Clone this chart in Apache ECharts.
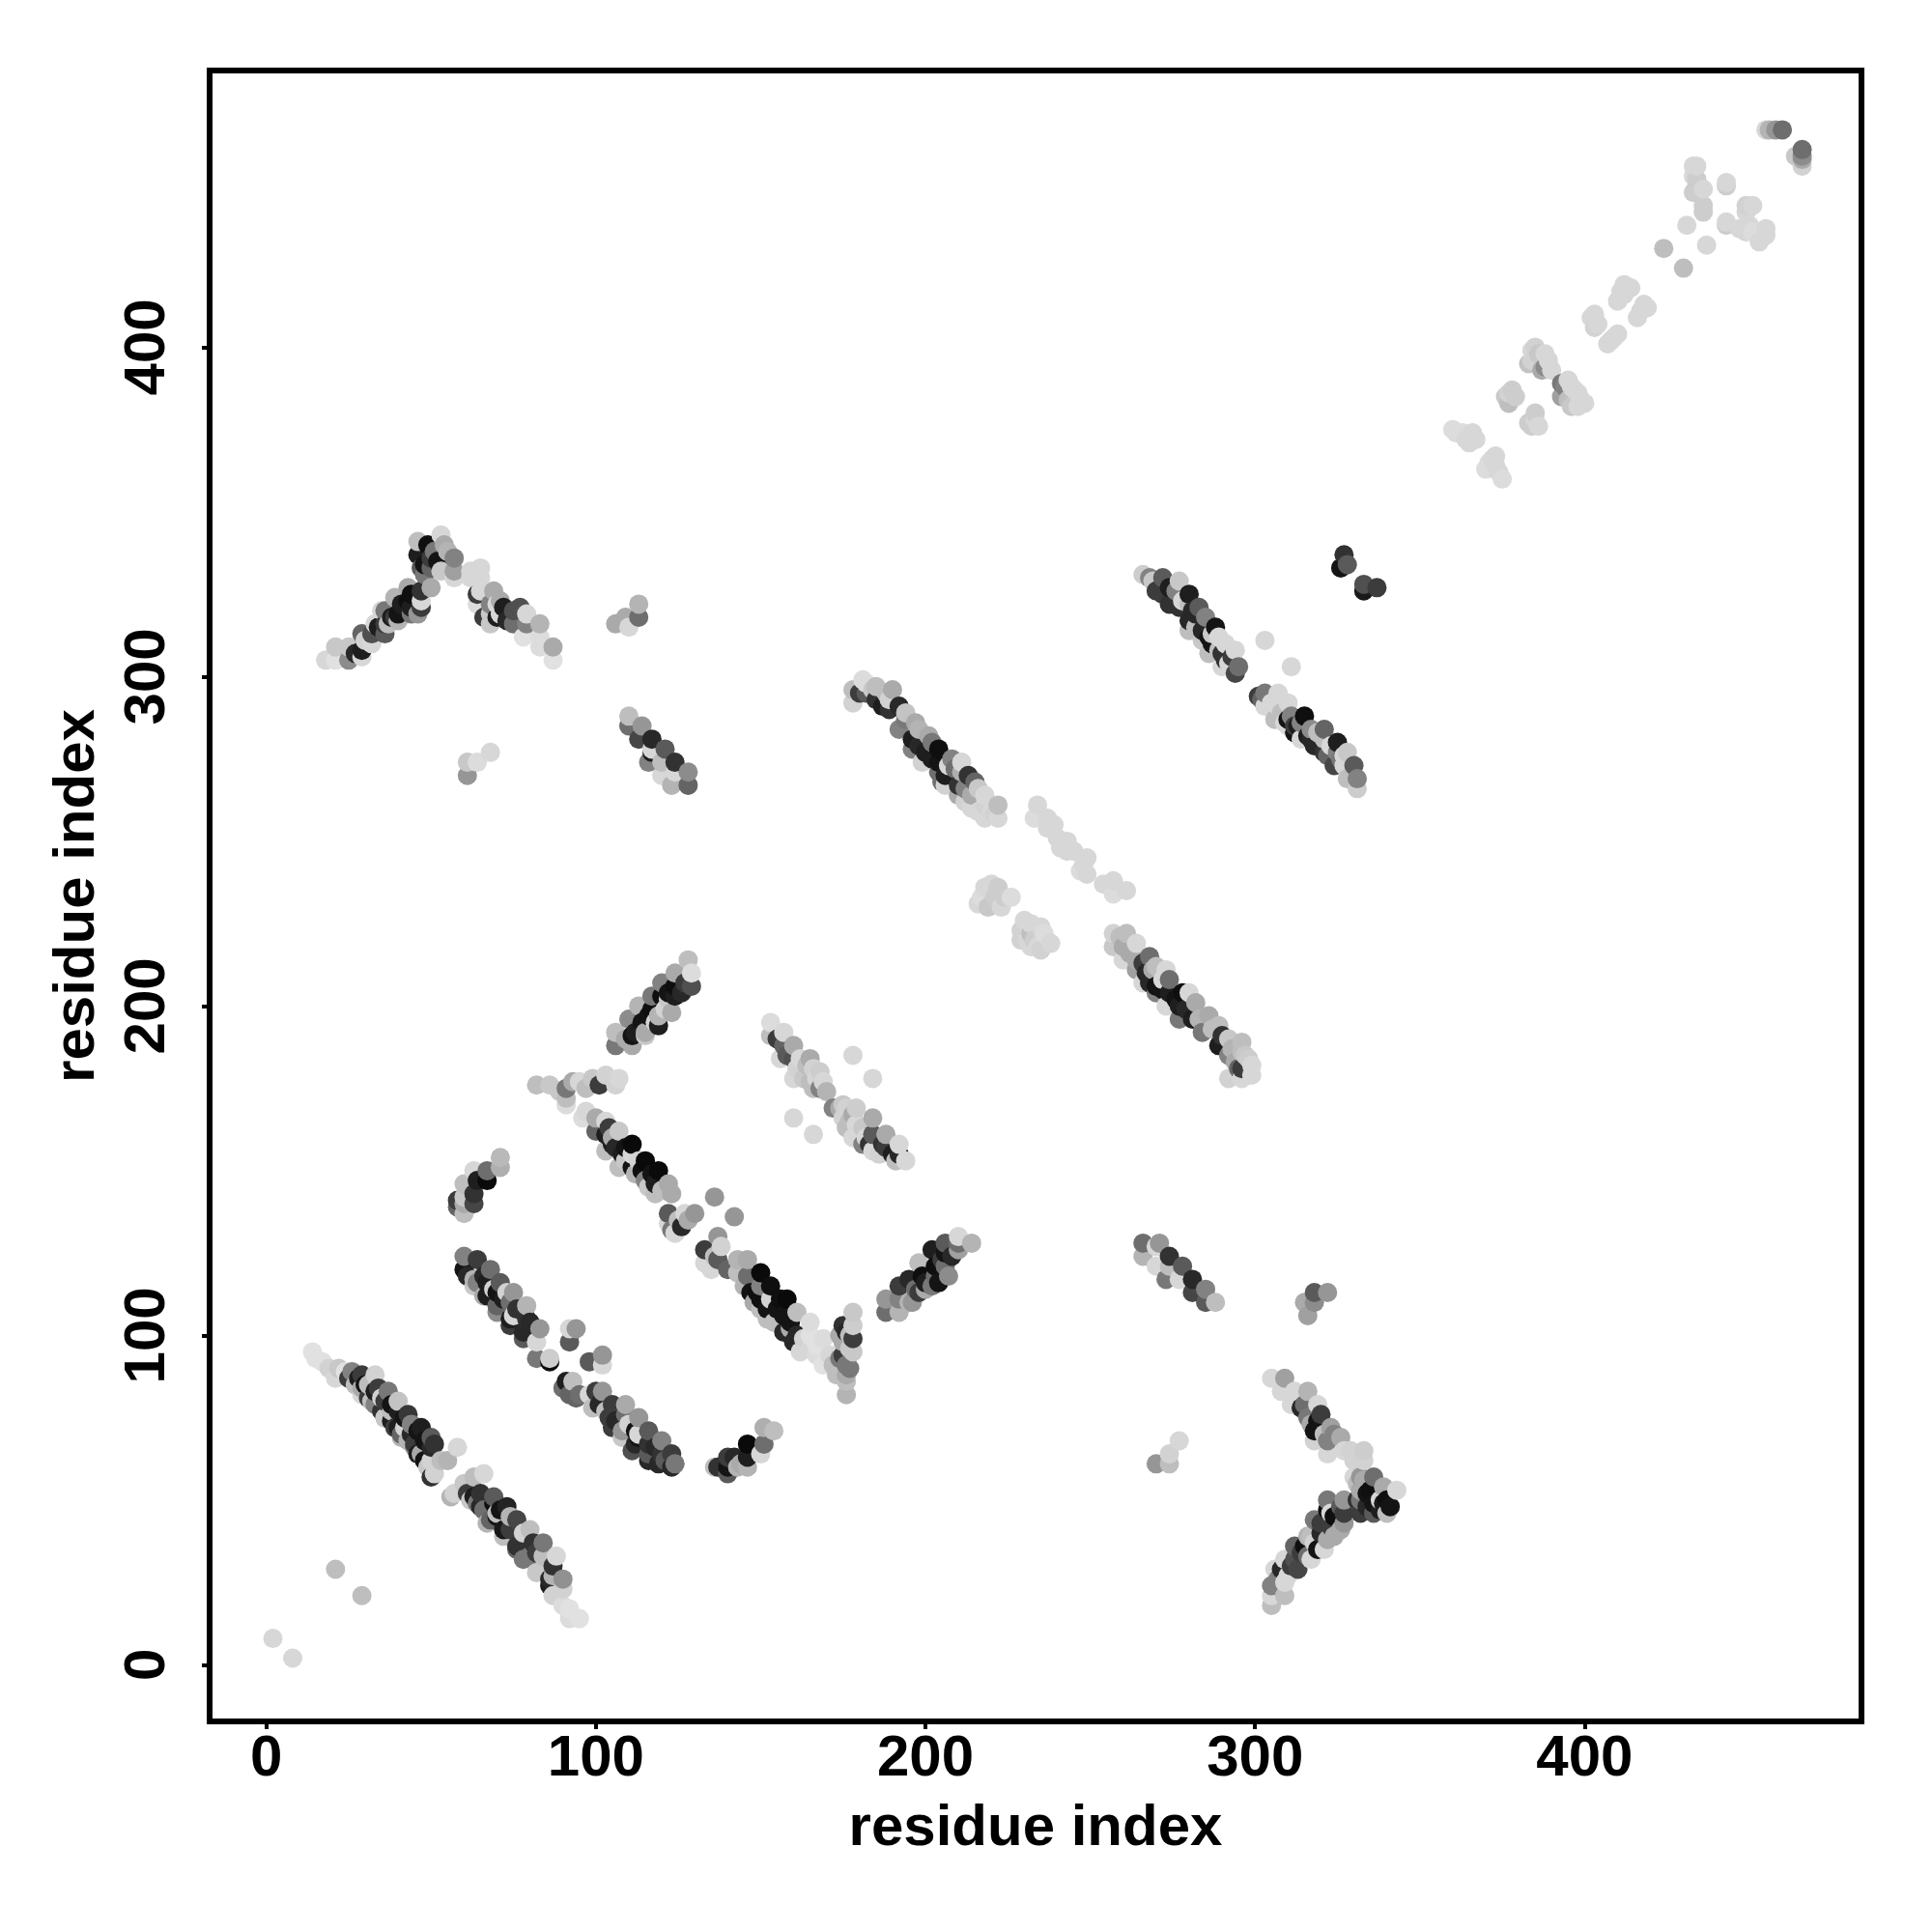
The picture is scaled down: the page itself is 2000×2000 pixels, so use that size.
<!DOCTYPE html>
<html><head><meta charset="utf-8">
<style>html,body{margin:0;padding:0;background:#fff}#c{width:2000px;height:2000px}</style>
<script src="https://cdn.jsdelivr.net/npm/echarts@6/dist/echarts.min.js"></script>
</head><body><div id="c"></div>
<script>
const axisName = "residue index";
const tickValues = [0,100,200,300,400];
// each point: [residue x, residue y, grey level]
const isolated = [[21,29,190],[29,21,190],[2,8,215],[8,2,215]];
const bandA1 = [[14,95,225],[15,93,225],[17,92,225],[19,90,210],[21,87,215],[22,90,200],[24,89,225],[25,87,60],[27,85,190],[29,84,170],[31,81,60],[33,79,130],[35,77,50],[36,75,110],[38,74,30],[40,72,30],[41,70,100],[43,68,180],[45,67,60],[46,64,30],[48,62,20],[50,62,210],[28,87,30],[30,85,20],[33,83,30],[36,80,60],[38,79,20],[40,77,30],[42,75,20],[44,73,130],[46,71,20],[48,68,20],[50,66,40],[26,89,130],[29,88,60],[33,88,210],[34,84,60],[37,83,120],[40,80,195],[43,76,55],[47,72,30],[50,69,90],[51,67,50],[53,62,190],[55,62,180],[58,66,215],[50,57,50],[51,58,210]];
const extraA1 = [[29,82,215],[32,80,190],[36,75,200],[39,72,60],[41,69,180],[45,66,130],[47,64,170],[49,60,200],[31,85,190],[35,81,210],[38,77,190],[42,72,210],[44,70,40]];
const bandA2 = [[56,51,180],[57,52,210],[63,57,190],[61,52,60],[66,58,215],[65,52,50],[69,51,90],[73,48,35],[76,44,70],[80,41,190],[84,37,120],[81,37,50],[88,33,215],[87,30,50],[90,26,145],[90,23,210],[87,21,210],[92,17,225],[95,14,225],[92,14,220],[90,18,220],[65,48,40],[68,44,100],[72,41,25],[76,36,50],[80,33,120],[84,29,200],[86,26,40],[69,49,15],[71,47,20],[74,45,180],[78,40,210],[70,45,20],[82,34,60]];
const extraA2 = [[60,55,200],[62,50,200],[64,49,120],[67,43,180],[70,46,190],[72,39,190],[74,41,60],[76,35,100],[78,32,120],[82,28,200],[86,24,30],[84,33,190],[87,27,180],[63,51,30],[66,47,110]];
const bandB = [[60,120,20],[60,124,130],[64,123,60],[63,117,180],[64,116,130],[67,116,30],[67,112,30],[68,120,110],[70,113,20],[70,109,100],[71,116,90],[73,113,210],[74,110,110],[74,105,30],[75,113,150],[75,106,215],[78,101,40],[79,105,50],[79,109,180],[83,102,150],[82,98,215],[82,93,120],[86,92,10],[86,93,205],[92,98,90],[92,102,215],[94,102,150],[98,92,90],[102,91,215],[102,94,150],[91,86,30],[92,82,100],[93,86,190],[95,82,110],[98,82,215],[102,83,150],[101,79,40],[105,79,60],[109,79,170],[104,75,60],[109,76,110],[113,75,150],[108,71,150],[112,71,20],[113,70,215],[116,71,90],[112,67,40],[116,67,50],[120,68,130],[116,64,90],[120,64,50],[123,64,60],[119,61,40],[123,60,40],[124,61,120]];
const extraB = [[61,118,40],[63,115,200],[66,112,170],[66,118,40],[69,114,210],[70,107,140],[72,111,30],[74,103,60],[76,108,50],[78,99,90],[80,104,40],[105,72,60],[108,69,200],[111,65,80],[116,62,40],[100,83,60],[103,77,190],[106,74,40],[110,73,210],[113,69,20],[118,66,40],[121,62,90],[90,84,110],[99,78,190],[94,81,100]];
const clusterC = [[136,60,190],[137,60,50],[140,58,90],[140,63,60],[140,60,20],[144,61,170],[142,63,40],[143,60,180],[146,60,180],[146,67,10],[146,63,30],[150,64,215],[151,67,110],[151,72,175],[154,71,190]];
const clusterD = [[58,139,100],[58,141,60],[60,137,190],[60,140,170],[60,142,200],[60,146,190],[63,140,70],[63,143,50],[63,150,215],[64,147,30],[67,147,10],[67,150,110],[71,151,175],[71,154,185]];
const bandE = [[82,176,190],[86,176,200],[89,174,200],[91,175,120],[91,172,190],[91,170,220],[93,177,170],[95,177,215],[97,175,190],[99,178,200],[101,176,60],[103,179,210],[106,176,210],[107,178,215],[96,166,220],[97,168,215],[100,166,170],[103,165,215],[100,162,100],[103,161,30],[107,162,200],[103,156,190],[105,158,30],[108,155,30],[111,158,10],[111,155,215],[107,151,190],[111,151,20],[115,153,10],[119,150,10],[115,147,130],[118,146,30],[118,143,190],[122,146,170],[123,143,170],[122,137,90],[127,137,215],[122,134,215],[126,133,40],[130,137,150],[136,142,150],[142,136,150]];
const extraE = [[104,163,60],[105,160,170],[106,157,40],[109,153,200],[109,157,20],[112,149,180],[113,153,210],[114,150,15],[117,149,20],[116,145,200],[120,144,190],[125,135,190],[128,135,170],[123,132,120],[124,131,215]];
const bandF = [[137,130,150],[133,126,60],[138,127,210],[133,122,215],[137,123,90],[143,123,180],[146,123,170],[143,119,190],[146,118,110],[150,119,10],[150,115,130],[153,115,15],[150,111,15],[150,108,190],[153,111,210],[158,111,10],[154,104,190],[155,108,20],[161,107,190],[159,104,20],[161,100,40],[165,104,220],[165,96,215],[169,99,220],[167,94,220],[169,91,225]];
const extraF = [[136,124,190],[135,120,215],[140,120,100],[145,115,180],[147,113,20],[148,110,170],[149,113,15],[152,108,20],[152,105,190],[156,111,15],[157,106,20],[157,101,40],[159,102,170],[160,98,40],[163,99,210],[162,95,215],[165,100,225],[167,97,225],[171,94,215],[173,88,190],[177,100,190],[178,95,200],[177,90,120],[175,94,60],[176,88,170],[178,99,60],[176,101,40]];
const vArm = [[172,91,190],[174,100,170],[174,93,120],[175,103,50],[175,98,170],[176,91,120],[176,86,190],[176,82,180],[177,96,200],[178,107,200],[178,103,205]];
const riseG = [[188,107,110],[188,111,150],[192,107,180],[192,111,130],[196,110,150],[192,115,60],[195,117,40],[200,114,170],[199,118,15],[198,122,190],[203,118,110],[203,121,15],[206,121,110],[202,126,30],[206,128,90],[210,130,215],[210,128,110],[214,128,180],[206,125,20],[210,126,160]];
const extraG = [[195,110,180],[197,114,110],[198,113,60],[200,116,30],[202,115,120],[204,116,20],[207,118,140],[205,123,60],[208,124,40]];
const riseH = [[106,192,190],[106,188,120],[111,188,170],[110,196,140],[111,191,20],[115,192,170],[113,200,180],[114,195,20],[118,195,210],[117,203,120],[117,199,15],[121,199,210],[120,207,130],[120,203,15],[124,203,30],[124,210,170],[124,206,15],[129,206,80],[128,214,190],[129,210,220],[122,202,200]];
const extraH = [[109,190,170],[112,192,30],[116,197,20],[119,197,180],[122,204,20],[123,198,170],[126,204,40],[127,207,60],[115,191,200],[119,194,30]];
const clusterI = [[153,195,220],[153,191,190],[157,188,100],[157,192,215],[160,188,170],[156,184,215],[160,184,80],[160,178,215],[165,184,170],[164,182,190],[166,181,210],[168,175,130],[165,177,190],[169,177,215],[178,185,215],[184,178,215],[160,166,215],[166,161,215],[174,169,170],[176,169,210],[179,169,205],[177,165,190],[179,164,215],[184,166,170],[178,160,215],[184,161,90],[188,161,170],[184,156,215],[188,157,60],[192,158,215],[191,153,190],[194,153,215]];
const extraI = [[155,190,60],[158,185,90],[161,181,210],[162,184,215],[163,178,200],[166,175,190],[167,178,215],[168,180,205],[170,174,180],[172,169,130],[175,166,210],[175,170,200],[176,163,190],[178,167,170],[181,163,200],[182,160,215],[181,158,130],[183,158,50],[186,155,210],[187,158,50],[190,155,30],[192,155,40]];
const peakJ = [[18,305,215],[21,309,200],[21,305,225],[25,305,140],[25,309,200],[29,306,215],[29,308,30],[29,313,100],[32,313,80],[36,313,90],[32,310,215],[33,316,215],[36,316,60],[37,316,190],[35,320,215],[36,320,120],[40,317,180],[40,319,20],[44,319,120],[39,324,180],[43,323,15],[43,327,170],[47,323,215],[47,321,60],[47,326,50],[50,327,170],[46,341,190],[46,337,30],[47,333,90],[49,340,15],[50,336,60],[50,333,100],[53,343,215],[54,340,170],[52,335,20],[57,336,130],[57,332,160],[57,330,215],[62,332,215],[65,333,215],[62,330,215],[65,330,215],[65,326,215],[64,322,220],[69,326,170],[68,322,130],[71,323,170],[68,319,200],[71,319,215],[70,318,30],[75,320,80],[75,316,110],[79,319,215],[79,316,130],[83,316,180],[78,312,225],[83,312,220],[83,309,220],[87,309,170],[87,305,225]];
const extraJ = [[27,307,40],[30,311,210],[34,315,30],[38,318,30],[39,318,60],[41,322,30],[44,325,15],[44,321,30],[46,319,150],[48,334,20],[51,338,120],[48,331,120],[53,332,200],[55,338,180],[68,316,200],[73,317,40],[72,321,30],[77,321,80],[66,318,60],[70,322,215],[64,325,60]];
const clusterK = [[106,316,170],[110,315,215],[109,318,170],[113,318,110],[113,322,180],[61,274,200],[64,274,220],[68,277,215],[61,270,150]];
const bandL = [[110,285,110],[110,288,190],[113,281,70],[114,285,150],[116,274,130],[117,281,40],[117,277,30],[117,278,215],[120,274,190],[120,270,215],[121,278,90],[123,267,180],[124,274,50],[124,271,215],[128,267,100],[128,271,140]];
const bandM = [[178,292,210],[178,296,190],[181,299,220],[182,298,220],[185,297,190],[182,295,90],[185,293,50],[188,295,190],[189,293,210],[189,290,50],[194,289,195],[192,284,130],[197,286,170],[196,281,30],[201,282,170],[196,278,130],[200,277,30],[204,278,15],[199,274,210],[204,274,20],[208,275,130],[204,271,110],[206,270,30],[211,274,215],[211,271,175],[206,267,210],[210,267,50],[210,264,170],[215,268,100],[214,264,170],[218,264,215],[214,260,215],[218,261,210],[218,257,215],[222,261,190],[222,257,215]];
const extraM = [[180,295,60],[184,296,200],[187,291,30],[190,296,170],[192,291,40],[194,287,120],[198,284,180],[198,279,40],[202,275,30],[202,280,120],[205,268,110],[207,273,215],[209,272,110],[212,266,130],[213,270,50],[212,262,210],[216,266,200],[216,259,215],[220,259,215],[221,258,210]];
const lightN = [[234,261,215],[233,257,220],[237,257,215],[237,254,215],[241,248,215],[243,250,215],[248,243,215],[247,241,220],[254,237,215],[257,238,215],[257,234,220],[261,235,215],[217,233,220],[220,237,215],[221,233,205],[226,233,220],[223,230,215],[229,223,210],[232,225,215],[236,222,220],[232,218,215],[234,218,215],[232,222,190]];
const extraN = [[216,231,215],[218,236,215],[219,230,200],[222,236,205],[224,233,205],[229,220,210],[231,220,215],[233,220,205],[230,226,215],[235,224,215],[238,219,215],[235,217,210],[243,247,215],[240,251,215],[245,247,215],[249,245,215],[249,240,215],[239,255,215]];
const bandO = [[257,222,210],[261,222,190],[257,218,200],[260,218,170],[264,219,215],[260,214,215],[264,214,170],[268,215,110],[264,211,160],[266,207,215],[267,210,40],[270,212,190],[273,211,215],[270,204,130],[270,206,20],[274,208,110],[273,200,215],[274,204,30],[278,204,15],[277,200,30],[277,196,120],[281,196,30],[282,201,170],[286,197,170],[284,192,120],[289,194,190],[289,188,30],[292,190,200],[296,189,190],[292,185,130],[295,181,100],[296,186,190],[292,178,210],[296,178,215],[299,182,215],[299,179,215]];
const extraO = [[259,221,190],[262,216,170],[266,213,60],[268,207,40],[269,211,170],[272,205,20],[276,202,20],[279,199,40],[280,204,215],[283,196,180],[287,193,190],[290,191,50],[293,187,180],[294,183,170],[297,185,200],[296,181,60],[298,184,205],[272,208,215]];
const bandP = [[266,331,205],[268,330,130],[269,329,200],[272,325,60],[272,330,90],[277,329,200],[276,326,130],[277,321,50],[280,325,30],[280,322,190],[280,317,40],[280,314,190],[283,321,90],[285,318,130],[284,314,40],[288,315,20],[284,311,200],[287,310,20],[286,307,190],[291,310,215],[290,307,50],[294,308,215],[290,303,215],[294,301,70],[295,303,110],[303,311,215],[311,303,215]];
const extraP = [[270,326,60],[274,322,50],[274,327,30],[278,323,215],[282,319,40],[282,315,190],[286,312,20],[287,313,200],[289,308,190],[291,305,50],[292,304,215],[289,312,215],[281,320,40],[293,306,60]];
const bandQ = [[301,294,60],[303,295,120],[303,291,215],[307,295,215],[307,291,215],[310,292,215],[306,287,190],[311,288,130],[310,285,215],[310,287,20],[315,288,15],[314,281,215],[313,285,30],[317,284,140],[317,281,40],[321,284,100],[321,277,50],[321,281,190],[325,280,30],[324,273,70],[325,277,130],[328,277,200],[327,273,215],[330,273,90],[328,269,190],[331,269,130],[331,266,205]];
const extraQ = [[302,293,100],[305,292,215],[308,289,190],[309,286,215],[312,285,60],[314,286,130],[312,283,20],[316,282,30],[318,279,40],[319,283,190],[322,276,100],[323,279,215],[326,275,120],[327,276,215]];
const darkR = [[327,337,50],[326,333,20],[328,334,90],[333,326,25],[333,328,80],[337,327,60]];
const upperS = [[360,375,220],[363,374,220],[366,374,215],[365,371,215],[371,365,220],[373,367,215],[373,364,215],[375,360,220],[377,386,210],[379,385,205],[377,383,190],[383,377,205],[385,378,215],[384,399,215],[385,397,210],[386,398,200],[388,394,140],[389,396,215],[394,388,130],[395,390,215],[395,384,190],[397,387,215],[399,384,215],[402,409,215],[408,402,215],[409,403,215],[411,417,215],[412,419,215],[417,411,215],[419,412,215],[424,430,190],[430,424,190],[431,437,215],[437,431,215],[433,455,215],[434,455,215],[434,449,205],[433,452,215],[436,443,205],[443,450,215],[443,437,205],[449,443,210],[449,435,215],[451,435,220],[455,434,215],[455,466,215],[456,466,180],[458,466,150],[460,466,110],[464,458,200],[466,455,210],[466,457,170],[466,458,140],[466,460,110]];
const extraS = [[378,387,205],[376,385,200],[384,376,205],[385,380,205],[386,376,215],[384,396,210],[383,395,195],[385,400,210],[387,393,170],[388,398,215],[390,393,215],[393,385,160],[393,389,120],[396,382,200],[398,386,215],[398,382,215],[396,388,215],[400,383,215],[403,406,210],[404,407,215],[403,410,215],[407,401,215],[410,404,215],[412,416,215],[410,414,215],[414,418,215],[416,409,215],[418,413,215],[361,374,220],[364,372,215],[367,372,215],[370,363,220],[372,366,215],[374,362,215],[433,447,205],[434,451,205],[436,448,215],[443,449,205],[449,441,215],[451,443,215],[447,436,215],[450,437,215],[453,432,215],[455,436,215],[443,438,215],[436,441,205]];
const clusterT = [[266,128,110],[266,124,180],[270,127,215],[271,128,150],[270,121,215],[274,124,50],[273,117,120],[274,121,190],[278,121,90],[277,117,215],[281,117,40],[281,113,70],[285,114,130],[285,110,90],[288,110,190],[315,110,170],[316,106,160],[318,113,90],[318,110,140],[322,113,150],[270,61,150],[274,61,190],[274,64,210],[277,68,215]];
const arrowU = [[305,87,215],[309,87,160],[308,83,215],[312,83,215],[311,79,215],[316,83,180],[315,79,110],[316,75,120],[319,79,215],[320,76,60],[318,71,20],[318,68,210],[323,72,160],[322,68,130],[326,69,170],[322,64,215],[327,65,215],[329,65,210],[333,65,205],[330,62,210],[333,62,210],[330,57,215],[332,57,150],[336,57,110],[332,53,170],[332,50,120],[332,46,60],[335,53,15],[336,49,20],[336,46,90],[339,54,170],[340,50,15],[340,46,190],[343,53,215]];
const arrowV = [[327,50,150],[327,46,60],[327,43,150],[323,46,215],[322,47,15],[324,39,170],[320,43,60],[318,44,120],[321,35,215],[317,39,190],[317,32,215],[315,36,15],[316,39,180],[312,36,100],[312,32,80],[313,29,70],[309,32,215],[308,29,40],[306,29,215],[309,25,215],[305,24,130],[309,21,190],[305,21,215],[305,18,190]];
const extraUV = [[314,34,60],[316,33,110],[318,37,210],[319,35,20],[320,40,40],[322,38,170],[323,42,60],[326,41,170],[322,50,120],[324,45,15],[326,48,90],[310,27,215],[311,30,60],[307,26,130],[314,78,40],[317,73,170],[319,74,20],[321,70,190],[324,70,130],[331,50,50],[334,48,40],[334,52,20],[338,50,215],[338,47,30],[341,48,20],[339,49,25],[333,56,170],[331,55,190]];

const allPoints = [].concat(isolated,bandA1,extraA1,bandA2,extraA2,bandB,extraB,clusterC,clusterD,bandE,extraE,bandF,extraF,vArm,riseG,extraG,riseH,extraH,clusterI,extraI,peakJ,extraJ,clusterK,bandL,bandM,extraM,lightN,extraN,bandO,extraO,bandP,extraP,bandQ,extraQ,darkR,upperS,extraS,clusterT,arrowU,arrowV,extraUV);
allPoints.sort((a,b)=>a[0]-b[0]||a[1]-b[1]);
const chart = echarts.init(document.getElementById('c'),null,{renderer:'canvas'});
const font = {fontFamily:'"Liberation Sans"',fontWeight:'bold',fontSize:60,color:'#000'};
function axis(extra){
  return Object.assign({
    type:'value',min:-17.2,max:484,splitLine:{show:false},
    axisLine:{show:true,onZero:false,lineStyle:{color:'#000',width:6}},
    axisTick:{show:true,length:8,lineStyle:{color:'#000',width:4},customValues:tickValues},
    name:axisName,nameLocation:'middle',nameTextStyle:font
  },extra);
}
chart.setOption({
  animation:false,backgroundColor:'#fff',
  grid:{left:217,top:73,width:1710,height:1709,show:true,borderColor:'#000',borderWidth:6,backgroundColor:'transparent'},
  xAxis:axis({nameGap:81,axisLabel:Object.assign({margin:9,customValues:tickValues},font)}),
  yAxis:axis({nameGap:107,axisLabel:Object.assign({margin:34,rotate:90,customValues:tickValues,align:'center',verticalAlign:'bottom'},font)}),
  series:[{type:'scatter',symbol:'circle',symbolSize:20,silent:true,itemStyle:{opacity:1},
    data:allPoints.map(p=>({value:[p[0],p[1]],itemStyle:{opacity:1,color:`rgb(${p[2]},${p[2]},${p[2]})`}}))}]
});
</script></body></html>
